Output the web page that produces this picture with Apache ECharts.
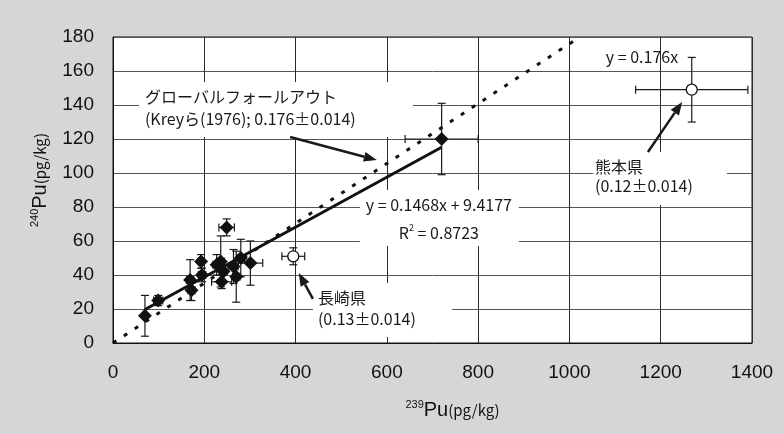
<!DOCTYPE html>
<html>
<head>
<meta charset="utf-8">
<script src="https://cdn.jsdelivr.net/npm/echarts@6/dist/echarts.min.js"></script>
<style>
  html, body { margin: 0; padding: 0; background: #d5d6d8; }
  #chart { width: 784px; height: 434px; }
</style>
</head>
<body>
<div id="chart"></div>
<script>
// 土壌試料 (黒菱形): 239Pu, 240Pu とその誤差
const soilX    = [70, 99, 169, 172, 193, 195, 249, 227, 236, 242, 238, 264, 270, 280, 301, 720];
const soilY    = [16, 25, 37, 31, 48, 40, 68, 46, 48, 42, 36, 45, 39, 50, 47, 120];
const soilXErr = [5, 10, 8, 8, 6, 8, 17, 8, 8, 8, 22, 10, 8, 8, 27, 80];
const soilYErr = [12, 3, 12, 6, 4, 4, 5, 6, 15, 6, 4, 10, 15, 11, 13, 21];

// 県別 (白丸)
const prefNames = ['長崎県', '熊本県'];
const prefX    = [395, 1268];
const prefY    = [51, 149];
const prefXErr = [25, 123];
const prefYErr = [5, 19];

// 軸
const xMin = 0, xMax = 1400, xStep = 200;
const yMin = 0, yMax = 180, yStep = 20;

// 直線
const globalSlope = 0.176;          // グローバルフォールアウト
const fitSlope = 0.1468;            // 回帰直線
const fitIntercept = 9.4177;

const FONT = 'Liberation Sans, Arial, sans-serif';
const JFONT = '"Noto Sans CJK JP", sans-serif';

const soilPts = soilX.map((x, i) => [x, soilY[i]]);
const soilErr = soilX.map((x, i) => [x, soilY[i], soilXErr[i], soilYErr[i]]);
const prefPts = prefX.map((x, i) => [x, prefY[i]]);
const prefErr = prefX.map((x, i) => [x, prefY[i], prefXErr[i], prefYErr[i]]);

const globalEnd = yMax / globalSlope;
const globalLine = [[0, 0], [globalEnd, globalSlope * globalEnd]];
const fitX0 = Math.min(...soilX), fitX1 = Math.max(...soilX);
const fitLine = [[fitX0, fitSlope * fitX0 + fitIntercept], [fitX1, fitSlope * fitX1 + fitIntercept]];

// 誤差棒
function renderErr(params, api) {
  const x = api.value(0), y = api.value(1), ex = api.value(2), ey = api.value(3);
  const top = api.coord([x, y + ey]), bot = api.coord([x, y - ey]);
  const lft = api.coord([x - ex, y]), rgt = api.coord([x + ex, y]);
  const cap = 4;
  const style = { stroke: '#1a1a1a', lineWidth: 1.2, fill: null };
  const segs = [
    [top[0], top[1], bot[0], bot[1]],
    [top[0] - cap, top[1], top[0] + cap, top[1]],
    [bot[0] - cap, bot[1], bot[0] + cap, bot[1]],
    [lft[0], lft[1], rgt[0], rgt[1]],
    [lft[0], lft[1] - cap, lft[0], lft[1] + cap],
    [rgt[0], rgt[1] - cap, rgt[0], rgt[1] + cap]
  ];
  return {
    type: 'group',
    children: segs.map(s => ({ type: 'line', shape: { x1: s[0], y1: s[1], x2: s[2], y2: s[3] }, style: style }))
  };
}

const nameRich = {
  sup: { fontSize: 11, fontFamily: FONT, color: '#111', verticalAlign: 'top', lineHeight: 22 },
  b: { fontSize: 20, fontFamily: FONT, color: '#111', lineHeight: 22 },
  s: { fontSize: 15, fontFamily: JFONT, color: '#111', lineHeight: 22 }
};

const chart = echarts.init(document.getElementById('chart'));
chart.setOption({
  backgroundColor: '#d5d6d8',
  animation: false,
  grid: {
    left: 113, right: 32, top: 37, bottom: 91,
    show: true, backgroundColor: '#ffffff', borderColor: '#111', borderWidth: 1
  },
  xAxis: {
    type: 'value', min: xMin, max: xMax, interval: xStep,
    name: '{sup|239}{b|Pu}{s|(pg/kg)}',
    nameLocation: 'middle', nameGap: 56,
    nameTextStyle: { rich: nameRich, padding: [0, 0, 0, 40] },
    axisLine: { lineStyle: { color: '#111', width: 1 } },
    axisTick: { show: false },
    axisLabel: { margin: 20, fontSize: 19, fontFamily: FONT, color: '#111', formatter: v => String(v) },
    splitLine: { lineStyle: { color: '#2a2a2a', width: 1 } }
  },
  yAxis: {
    type: 'value', min: yMin, max: yMax, interval: yStep,
    name: '{sup|240}{b|Pu}{s|(pg/kg)}',
    nameLocation: 'middle', nameGap: 62, nameRotate: 90,
    nameTextStyle: { rich: nameRich, padding: [0, 0, 0, 20] },
    axisLine: { lineStyle: { color: '#111', width: 1 } },
    axisTick: { show: false },
    axisLabel: { margin: 19, fontSize: 19, fontFamily: FONT, color: '#111' },
    splitLine: { lineStyle: { color: '#555', width: 1 } }
  },
  series: [
    {
      name: 'global', type: 'line', data: globalLine, symbol: 'none', z: 3,
      lineStyle: { color: '#111', width: 3, type: [4, 9], cap: 'butt' }
    },
    {
      name: 'fit', type: 'line', data: fitLine, symbol: 'none', z: 3,
      lineStyle: { color: '#111', width: 3 }
    },
    {
      name: 'soilErr', type: 'custom', data: soilErr, renderItem: renderErr, z: 4
    },
    {
      name: 'prefErr', type: 'custom', data: prefErr, renderItem: renderErr, z: 4
    },
    {
      name: 'soil', type: 'scatter', data: soilPts, symbol: 'diamond', symbolSize: 14, z: 5,
      itemStyle: { color: '#111', opacity: 1 }
    },
    {
      name: 'pref', type: 'scatter', data: prefPts, symbol: 'circle', symbolSize: 11, z: 5,
      itemStyle: { color: '#fff', borderColor: '#111', borderWidth: 1.3, opacity: 1 }
    }
  ]
});

// 注記 (データ座標で配置)
const notes = [
  {
    box: [57, 153.5, 657, 121.2],
    texts: [
      { at: [70, 144.7], text: 'グローバルフォールアウト', align: 'left' },
      { at: [70, 131.8], text: '(Kreyら(1976); 0.176±0.014)', align: 'left' }
    ],
    arrow: [[388, 121.2], [578, 107.6]]
  },
  {
    box: [541, 90, 889, 57],
    texts: [
      { at: [714, 81.2], text: 'y = 0.1468x + 9.4177', align: 'center', size: 16 },
      { at: [714, 64.7], rich: '{n|R}{sup|2}{n| = 0.8723}', align: 'center' }
    ]
  },
  {
    box: [438, 35.3, 743, 3.5],
    texts: [
      { at: [449, 26.5], text: '長崎県', align: 'left' },
      { at: [449, 14.1], text: '(0.13±0.014)', align: 'left' }
    ],
    arrow: [[438, 25.9], [407, 41.2]]
  },
  {
    box: [1052, 112.4, 1345, 81.2],
    texts: [
      { at: [1056, 103.5], text: '熊本県', align: 'left' },
      { at: [1056, 92.4], text: '(0.12±0.014)', align: 'left' }
    ],
    arrow: [[1172, 112.4], [1247, 141.8]]
  },
  {
    texts: [
      { at: [1159, 168.2], text: 'y = 0.176x', align: 'center' }
    ]
  }
];

function px(p) { return chart.convertToPixel({ gridIndex: 0 }, p); }

const elems = [];
notes.forEach(n => {
  if (n.box) {
    const a = px([n.box[0], n.box[1]]), b = px([n.box[2], n.box[3]]);
    elems.push({
      type: 'rect', z: 1,
      shape: { x: a[0], y: a[1], width: b[0] - a[0], height: b[1] - a[1] },
      style: { fill: '#fff' }
    });
  }
  n.texts.forEach(t => {
    const p = px(t.at);
    const fs = t.size || 16;
    const style = {
      x: p[0], y: p[1], align: t.align, verticalAlign: 'middle',
      fill: '#1a1a1a', fontSize: fs, fontFamily: JFONT
    };
    if (t.rich) {
      style.text = t.rich;
      style.rich = {
        n: { fontSize: fs, fontFamily: JFONT, fill: '#1a1a1a', lineHeight: 20 },
        sup: { fontSize: 9, fontFamily: JFONT, fill: '#1a1a1a', verticalAlign: 'top', lineHeight: 20 }
      };
    } else {
      style.text = t.text;
    }
    elems.push({ type: 'text', z: 10, style: style });
  });
  if (n.arrow) {
    const s = px(n.arrow[0]), e = px(n.arrow[1]);
    const dx = e[0] - s[0], dy = e[1] - s[1];
    const len = Math.sqrt(dx * dx + dy * dy);
    const ux = dx / len, uy = dy / len;
    const hl = 13, hw = 5;
    const bx = e[0] - ux * hl, by = e[1] - uy * hl;
    elems.push({
      type: 'line', z: 10,
      shape: { x1: s[0], y1: s[1], x2: bx, y2: by },
      style: { stroke: '#1a1a1a', lineWidth: 2.5 }
    });
    elems.push({
      type: 'polygon', z: 10,
      shape: { points: [[e[0], e[1]], [bx - uy * hw, by + ux * hw], [bx + uy * hw, by - ux * hw]] },
      style: { fill: '#1a1a1a' }
    });
  }
});
chart.setOption({ graphic: { elements: elems } });
</script>
</body>
</html>
